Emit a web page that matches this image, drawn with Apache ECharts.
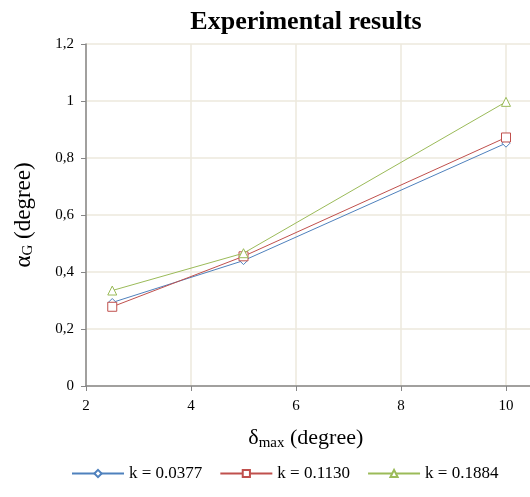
<!DOCTYPE html>
<html><head><meta charset="utf-8">
<script src="https://cdn.jsdelivr.net/npm/echarts@6/dist/echarts.min.js"></script>
<style>html,body{margin:0;padding:0;background:#fff}#c{width:530px;height:497px}</style>
</head><body><div id="c"></div>
<script>
const deltaMax = [2.5, 5, 10];
const k0377 = [0.293, 0.44, 0.852];
const k1130 = [0.278, 0.455, 0.872];
const k1884 = [0.335, 0.466, 0.997];
const seriesNames = ['k = 0.0377', 'k = 0.1130', 'k = 0.1884'];
const xTicks = [2, 4, 6, 8, 10];
const yTicks = [0, 0.2, 0.4, 0.6, 0.8, 1, 1.2];

const serif = '"Liberation Serif", "DejaVu Serif", serif';
const colors = ['#4F81BD', '#C0504D', '#9BBB59'];
const symbols = ['diamond', 'rect', 'triangle'];
const sizes = [8, 9, 9];
const allY = [k0377, k1130, k1884];

const chart = echarts.init(document.getElementById('c'), null, {renderer: 'canvas'});
const series = allY.map((ys, i) => ({
  name: seriesNames[i],
  type: 'line',
  data: deltaMax.map((x, j) => [x, ys[j]]),
  symbol: symbols[i],
  symbolSize: sizes[i],
  showAllSymbol: true,
  lineStyle: {color: colors[i], width: 1},
  itemStyle: {color: '#fff', borderColor: colors[i], borderWidth: 1},
  emphasis: {disabled: true},
  animation: false,
  z: 3 + i
}));

chart.setOption({
  animation: false,
  backgroundColor: '#fff',
  title: {
    text: 'Experimental results',
    left: 301, top: 4, textAlign: 'center',
    textStyle: {fontFamily: serif, fontWeight: 'bold', fontSize: 26, color: '#000'}
  },
  legend: {
    bottom: 10, left: 66,
    itemWidth: 52, itemHeight: 9, itemGap: 17,
    textStyle: {fontFamily: serif, fontSize: 17, color: '#000'},
    data: seriesNames
  },
  grid: {left: 86, right: -7.5, top: 44, bottom: 111, containLabel: false, outerBoundsMode: 'none'},
  xAxis: {
    type: 'value', min: xTicks[0], max: 10.6, interval: 2,
    name: '{a|δ}{s|max}{a| (degree)}',
    nameLocation: 'middle', nameGap: 40,
    nameTextStyle: {
      padding: [0, 12, 0, 0],
      rich: {
        a: {fontFamily: serif, fontSize: 22, color: '#000'},
        s: {fontFamily: serif, fontSize: 15, color: '#000', padding: [10, 0, 0, 0]}
      }
    },
    axisLine: {show: true, onZero: false, lineStyle: {color: '#868686', width: 1.5}},
    axisTick: {show: true, length: 5, lineStyle: {color: '#868686'}},
    axisLabel: {
      fontFamily: serif, fontSize: 15, color: '#000', margin: 13,
      formatter: v => xTicks.includes(v) ? String(v) : ''
    },
    splitLine: {show: true, lineStyle: {color: '#ECE9DC', width: 1.5}}
  },
  yAxis: {
    type: 'value', min: 0, max: 1.2, interval: 0.2,
    name: '{a|α}{s|G}{a| (degree)}',
    nameLocation: 'middle', nameGap: 50, nameRotate: 90,
    nameTextStyle: {
      rich: {
        a: {fontFamily: serif, fontSize: 23, color: '#000'},
        s: {fontFamily: serif, fontSize: 15, color: '#000', padding: [10, 0, 0, 0]}
      }
    },
    axisLine: {show: true, lineStyle: {color: '#868686', width: 1.5}},
    axisTick: {show: true, length: 5, lineStyle: {color: '#868686'}},
    axisLabel: {
      fontFamily: serif, fontSize: 15, color: '#000', margin: 12,
      formatter: v => String(Math.round(v * 10) / 10).replace('.', ',')
    },
    splitLine: {show: true, lineStyle: {color: '#ECE9DC', width: 1.5}}
  },
  series: series
});
</script>
</body></html>
